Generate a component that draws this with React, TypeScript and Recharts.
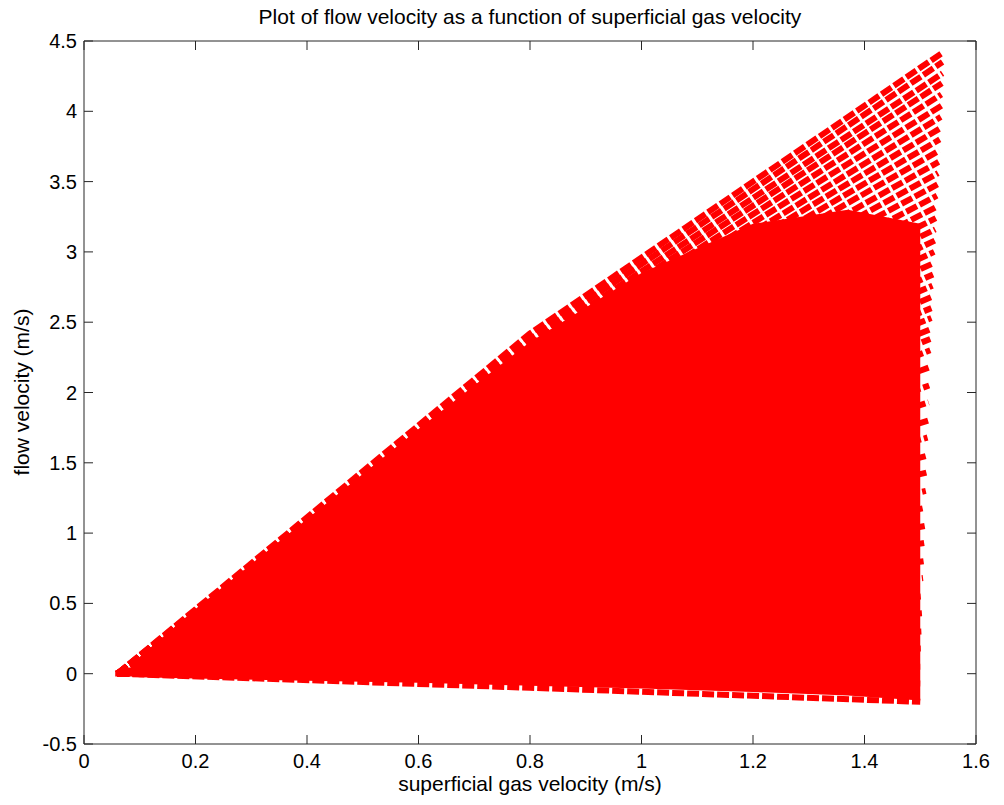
import { Area, ComposedChart, Line, XAxis, YAxis } from "recharts";

const xTicks = [0, 0.2, 0.4, 0.6, 0.8, 1, 1.2, 1.4, 1.6];
const yTicks = [-0.5, 0, 0.5, 1, 1.5, 2, 2.5, 3, 3.5, 4, 4.5];

// solid part of the fan, where the dashed curves overlap completely
const coreGas = [0.056, 0.09, 0.1, 0.2, 0.4, 0.6, 0.8, 1.0, 1.2, 1.37, 1.5];
const coreLow = [-0.02, -0.02, -0.025, -0.035, -0.05, -0.065, -0.085, -0.105, -0.13, -0.155, -0.19];
const coreHigh = [0.025, 0.05, 0.12, 0.46, 1.1, 1.74, 2.36, 2.85, 3.2, 3.3, 3.2];

// dashed curves: common start, value at 0.8 m/s, end point on the right edge
const startGas = [0.06];
const startFlow = [0.0];
const midGas = [0.8];
const midFlow = [
  -0.1, -0.03, 0.03, 0.09, 0.15, 0.22, 0.28, 0.35, 0.41, 0.48, 0.54, 0.61, 0.67, 0.74,
  0.8, 0.87, 0.93, 1.0, 1.06, 1.13, 1.2, 1.27, 1.33, 1.39,
  1.45, 1.49, 1.54, 1.58, 1.62, 1.66, 1.71, 1.75, 1.79, 1.83, 1.88, 1.92,
  1.96, 2.0, 2.05, 2.09, 2.13, 2.17, 2.22, 2.26, 2.3, 2.34, 2.38, 2.42,
];
const endGas = [
  1.5, 1.5, 1.5, 1.501, 1.502, 1.503, 1.504, 1.505, 1.506, 1.507, 1.508, 1.509, 1.51, 1.511,
  1.512, 1.513, 1.514, 1.515, 1.516, 1.517, 1.518, 1.518, 1.519, 1.52,
  1.52, 1.521, 1.522, 1.523, 1.524, 1.525, 1.526, 1.527, 1.528, 1.529, 1.53, 1.531,
  1.532, 1.533, 1.534, 1.535, 1.536, 1.537, 1.538, 1.538, 1.539, 1.54, 1.54, 1.541,
];
const endFlow = [
  -0.2, -0.07, 0.05, 0.18, 0.3, 0.43, 0.55, 0.68, 0.8, 0.93, 1.05, 1.18, 1.3, 1.43,
  1.55, 1.68, 1.8, 1.93, 2.05, 2.18, 2.3, 2.38, 2.45, 2.53,
  2.6, 2.68, 2.76, 2.84, 2.92, 3.0, 3.08, 3.16, 3.24, 3.32, 3.4, 3.48,
  3.56, 3.64, 3.72, 3.8, 3.88, 3.96, 4.04, 4.12, 4.2, 4.27, 4.35, 4.42,
];

const coreData = coreGas.map((x, i) => ({ x, band: [coreLow[i], coreHigh[i]] }));
const curves = endFlow.map((y, i) => [
  { x: startGas[0], y: startFlow[0] },
  { x: midGas[0], y: midFlow[i] },
  { x: endGas[i], y },
]);

const RED = "#ff0000";
const AXIS = "#262626";
const FONT = '"Liberation Sans", Arial, Helvetica, sans-serif';
const TICK = 9;

function BottomTick({ x, y, payload }: any) {
  return (
    <g>
      <line x1={x} y1={y} x2={x} y2={y - TICK} stroke={AXIS} />
      <text x={x} y={y + 24} textAnchor="middle" fontSize={20} fill="#000" fontFamily={FONT}>
        {String(payload.value)}
      </text>
    </g>
  );
}

function TopTick({ x, y }: any) {
  return <line x1={x} y1={y} x2={x} y2={y + TICK} stroke={AXIS} />;
}

function LeftTick({ x, y, payload }: any) {
  return (
    <g>
      <line x1={x} y1={y} x2={x + TICK} y2={y} stroke={AXIS} />
      <text x={x - 7} y={y + 7} textAnchor="end" fontSize={20} fill="#000" fontFamily={FONT}>
        {String(payload.value)}
      </text>
    </g>
  );
}

function RightTick({ x, y }: any) {
  return <line x1={x} y1={y} x2={x - TICK} y2={y} stroke={AXIS} />;
}

export default function App() {
  return (
    <div style={{ position: "absolute", left: 0, top: 0, width: 1004, height: 805, background: "#fff", fontFamily: FONT }}>
      <div style={{ position: "absolute", left: 84, width: 892, top: 5, textAlign: "center", fontSize: 21, color: "#000" }}>
        Plot of flow velocity as a function of superficial gas velocity
      </div>
      <div style={{ position: "absolute", left: 84, width: 892, top: 772, textAlign: "center", fontSize: 21, color: "#000" }}>
        superficial gas velocity (m/s)
      </div>
      <div
        style={{
          position: "absolute",
          left: 22,
          top: 392,
          transform: "translate(-50%, -50%) rotate(-90deg)",
          whiteSpace: "nowrap",
          fontSize: 21,
          color: "#000",
        }}
      >
        flow velocity (m/s)
      </div>
      <ComposedChart width={1004} height={805} margin={{ top: 0, right: 0, bottom: 0, left: 0 }}>
        <XAxis
          dataKey="x"
          type="number"
          domain={[0, 1.6]}
          ticks={xTicks}
          interval={0}
          allowDataOverflow
          height={61}
          tickSize={0}
          tickMargin={0}
          tickLine={false}
          axisLine={{ stroke: AXIS }}
          tick={<BottomTick />}
        />
        <XAxis
          xAxisId="top"
          orientation="top"
          dataKey="x"
          type="number"
          domain={[0, 1.6]}
          ticks={xTicks}
          interval={0}
          allowDataOverflow
          height={41}
          tickSize={0}
          tickMargin={0}
          tickLine={false}
          axisLine={{ stroke: AXIS }}
          tick={<TopTick />}
        />
        <YAxis
          type="number"
          domain={[-0.5, 4.5]}
          ticks={yTicks}
          interval={0}
          allowDataOverflow
          width={84}
          tickSize={0}
          tickMargin={0}
          tickLine={false}
          axisLine={{ stroke: AXIS }}
          tick={<LeftTick />}
        />
        <YAxis
          yAxisId="right"
          orientation="right"
          type="number"
          domain={[-0.5, 4.5]}
          ticks={yTicks}
          interval={0}
          allowDataOverflow
          width={28}
          tickSize={0}
          tickMargin={0}
          tickLine={false}
          axisLine={{ stroke: AXIS }}
          tick={<RightTick />}
        />
        <Area
          data={coreData}
          dataKey="band"
          type="linear"
          stroke="none"
          fill={RED}
          fillOpacity={1}
          isAnimationActive={false}
          dot={false}
          activeDot={false}
        />
        {curves.map((pts, i) => (
          <Line
            key={i}
            data={pts}
            dataKey="y"
            type="linear"
            stroke={RED}
            strokeWidth={6}
            strokeDasharray="12 3"
            dot={false}
            activeDot={false}
            isAnimationActive={false}
          />
        ))}
      </ComposedChart>
    </div>
  );
}
